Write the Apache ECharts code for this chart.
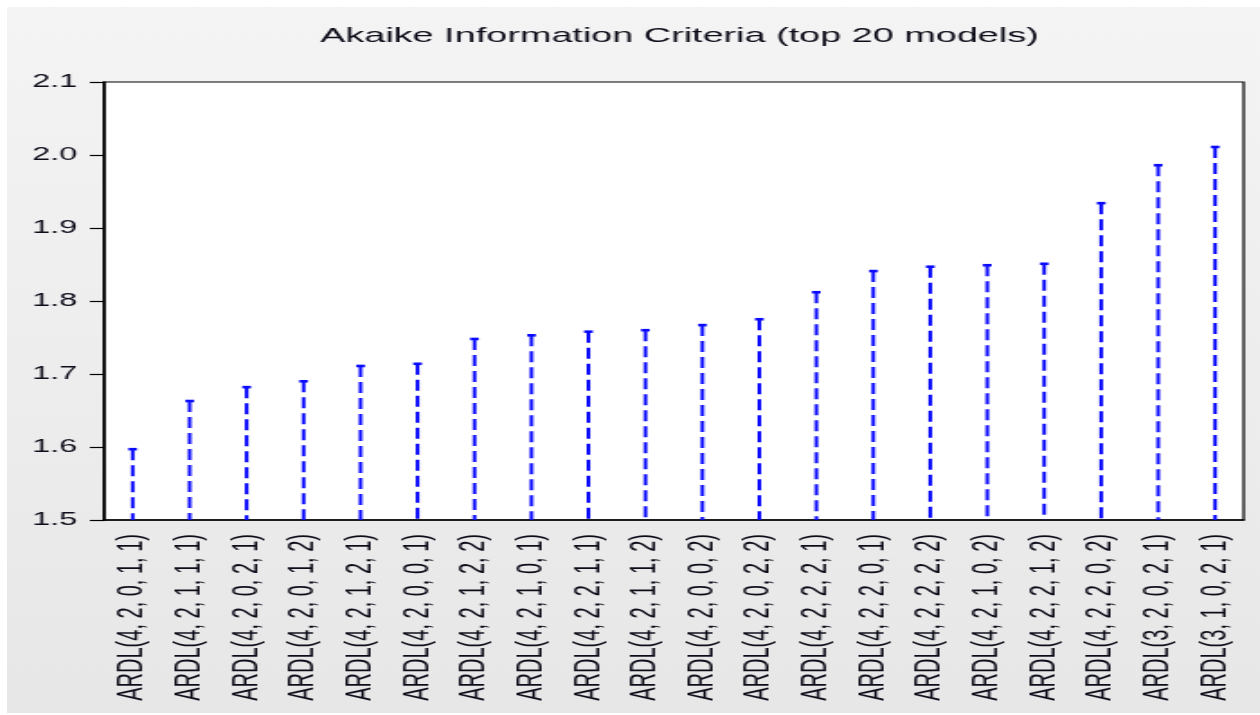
<!DOCTYPE html>
<html>
<head>
<meta charset="utf-8">
<script src="https://cdn.jsdelivr.net/npm/echarts@6/dist/echarts.min.js"></script>
<style>
  html, body { margin: 0; padding: 0; background: #fff; overflow: hidden; }
  /* the source picture is stretched sideways, so the chart is drawn narrow and widened */
  #chart {
    position: absolute; left: 7px; top: 7px;
    width: 696px; height: 706px;
    transform: scaleX(1.8); transform-origin: 0 0;
  }
</style>
</head>
<body>
<div id="chart"></div>
<script>
// models, ordered by AIC
const models = [
  'ARDL(4, 2, 0, 1, 1)', 'ARDL(4, 2, 1, 1, 1)', 'ARDL(4, 2, 0, 2, 1)', 'ARDL(4, 2, 0, 1, 2)',
  'ARDL(4, 2, 1, 2, 1)', 'ARDL(4, 2, 0, 0, 1)', 'ARDL(4, 2, 1, 2, 2)', 'ARDL(4, 2, 1, 0, 1)',
  'ARDL(4, 2, 2, 1, 1)', 'ARDL(4, 2, 1, 1, 2)', 'ARDL(4, 2, 0, 0, 2)', 'ARDL(4, 2, 0, 2, 2)',
  'ARDL(4, 2, 2, 2, 1)', 'ARDL(4, 2, 2, 0, 1)', 'ARDL(4, 2, 2, 2, 2)', 'ARDL(4, 2, 1, 0, 2)',
  'ARDL(4, 2, 2, 1, 2)', 'ARDL(4, 2, 2, 0, 2)', 'ARDL(3, 2, 0, 2, 1)', 'ARDL(3, 1, 0, 2, 1)'
]
const aic = [
  1.597, 1.663, 1.682, 1.690, 1.711, 1.714, 1.748, 1.753, 1.758, 1.760,
  1.767, 1.775, 1.812, 1.841, 1.847, 1.849, 1.851, 1.934, 1.986, 2.011
]
const yMin = 1.5
const yMax = 2.1
const yStep = 0.1

const myChart = echarts.init(document.getElementById('chart'))

// dashed stem with a small cap on top
const renderStem = (params, api) => {
  const top = api.coord([api.value(0), api.value(1)])
  const base = api.coord([api.value(0), yMin])
  const style = { stroke: '#0a0aff', lineWidth: 2, lineDash: [11, 5] }
  return {
    type: 'group',
    children: [
      { type: 'line', shape: { x1: top[0], y1: top[1], x2: base[0], y2: base[1] }, style: style },
      { type: 'line', shape: { x1: top[0] - 2.4, y1: top[1], x2: top[0] + 2.4, y2: top[1] },
        style: { stroke: '#0a0aff', lineWidth: 2.6 } }
    ]
  }
}

const option = {
  backgroundColor: {
    type: 'linear', x: 0, y: 0, x2: 0, y2: 1,
    colorStops: [{ offset: 0, color: '#f4f4f4' }, { offset: 1, color: '#e7e7e7' }]
  },
  animation: false,
  title: {
    text: 'Akaike Information Criteria (top 20 models)',
    left: 174,
    top: 19,
    padding: 0,
    textStyle: { fontFamily: 'Liberation Sans', fontSize: 21, fontWeight: 'normal', color: '#0d0d1a' }
  },
  grid: {
    left: 54, right: 9, top: 75, bottom: 193,
    show: true, backgroundColor: '#fff', borderColor: '#000', borderWidth: 1.2
  },
  xAxis: {
    type: 'category',
    data: models,
    axisLine: { lineStyle: { color: '#000', width: 1.5 } },
    axisTick: { length: 8, lineStyle: { color: '#000', width: 1.2 } },
    axisLabel: {
      interval: 0, rotate: 90, margin: 14,
      fontFamily: 'Liberation Sans', fontSize: 20, color: '#0d0d1a'
    },
    splitLine: { show: false }
  },
  yAxis: {
    type: 'value',
    min: yMin, max: yMax, interval: yStep,
    axisLine: { show: true, lineStyle: { color: '#000', width: 1.6 } },
    axisTick: { show: true, length: 8, lineStyle: { color: '#000', width: 1.2 } },
    axisLabel: {
      margin: 15,
      fontFamily: 'Liberation Sans', fontSize: 18, color: '#0d0d1a',
      formatter: (v) => v.toFixed(1)
    },
    splitLine: { show: false }
  },
  series: [{
    type: 'custom',
    renderItem: renderStem,
    data: aic.map((v, i) => [i, v]),
    encode: { x: 0, y: 1 }
  }]
}
myChart.setOption(option)
</script>
</body>
</html>
